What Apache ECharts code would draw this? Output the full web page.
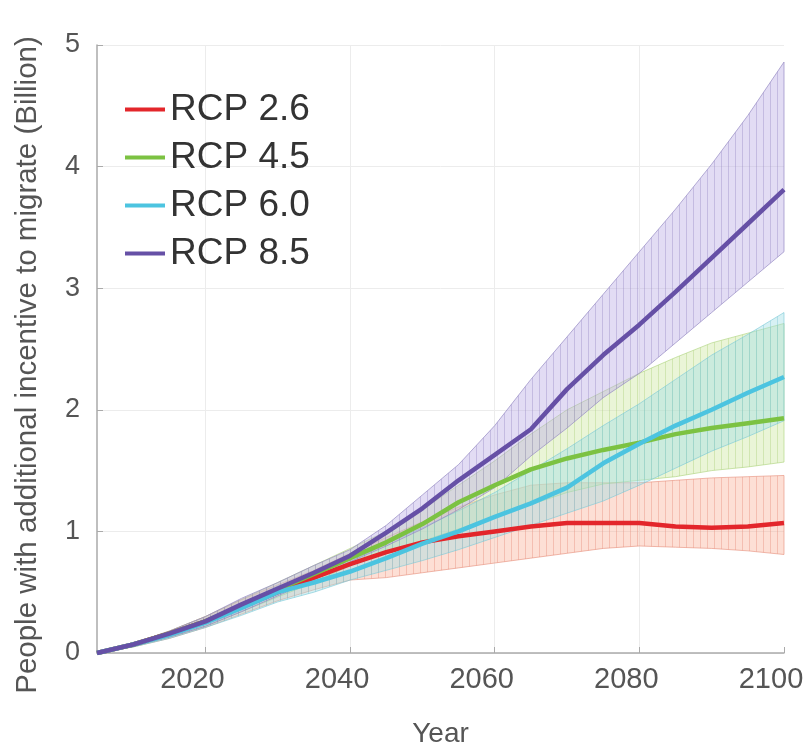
<!DOCTYPE html>
<html><head><meta charset="utf-8">
<script src="https://cdn.jsdelivr.net/npm/echarts@6/dist/echarts.min.js"></script>
<style>html,body{margin:0;padding:0;background:#fff}#c{width:808px;height:755px}</style>
</head><body><div id="c"></div>
<script>
const years = [2005,2010,2015,2020,2025,2030,2035,2040,2045,2050,2055,2060,2065,2070,2075,2080,2085,2090,2095,2100];

const rcp26Mean = [0,0.07,0.16,0.26,0.38,0.50,0.62,0.73,0.83,0.91,0.96,1.00,1.04,1.07,1.07,1.07,1.04,1.03,1.04,1.07];
const rcp26Low  = [0,0.05,0.12,0.21,0.32,0.43,0.52,0.60,0.62,0.66,0.70,0.74,0.78,0.82,0.86,0.88,0.87,0.86,0.84,0.81];
const rcp26High = [0,0.08,0.18,0.30,0.44,0.56,0.68,0.82,0.95,1.08,1.20,1.30,1.38,1.40,1.40,1.40,1.42,1.44,1.45,1.46];

const rcp45Mean = [0,0.07,0.16,0.26,0.39,0.52,0.65,0.78,0.91,1.06,1.24,1.38,1.51,1.60,1.67,1.73,1.80,1.85,1.89,1.93];
const rcp45Low  = [0,0.05,0.13,0.22,0.34,0.46,0.58,0.72,0.82,0.92,1.02,1.12,1.22,1.32,1.39,1.42,1.45,1.50,1.53,1.57];
const rcp45High = [0,0.08,0.18,0.30,0.44,0.58,0.72,0.86,1.00,1.18,1.38,1.58,1.80,2.00,2.15,2.30,2.43,2.55,2.63,2.71];

const rcp60Mean = [0,0.07,0.15,0.25,0.37,0.50,0.58,0.67,0.78,0.90,1.00,1.12,1.23,1.36,1.56,1.72,1.87,2.00,2.14,2.27];
const rcp60Low  = [0,0.05,0.12,0.21,0.31,0.42,0.50,0.60,0.68,0.76,0.85,0.95,1.05,1.15,1.25,1.38,1.52,1.66,1.78,1.91];
const rcp60High = [0,0.08,0.17,0.28,0.41,0.55,0.65,0.75,0.90,1.03,1.17,1.32,1.50,1.68,1.87,2.05,2.25,2.45,2.62,2.80];

const rcp85Mean = [0,0.07,0.16,0.26,0.40,0.53,0.66,0.80,0.99,1.19,1.42,1.63,1.84,2.17,2.45,2.70,2.97,3.25,3.53,3.81];
const rcp85Low  = [0,0.06,0.13,0.22,0.34,0.47,0.60,0.75,0.88,1.02,1.18,1.36,1.62,1.85,2.10,2.30,2.55,2.80,3.05,3.30];
const rcp85High = [0,0.08,0.18,0.30,0.45,0.58,0.72,0.85,1.05,1.30,1.55,1.87,2.25,2.60,2.95,3.30,3.65,4.02,4.42,4.86];

const xTicks = [2020,2040,2060,2080,2100];
const seriesNames = ['RCP 2.6','RCP 4.5','RCP 6.0','RCP 8.5'];

const FONT = 'Liberation Sans, Arial, sans-serif';
const lineColors = ['#E3262B','#7CC242','#4CC4E0','#6650A6'];
const bandBase = ['rgba(250,175,150,0.40)','rgba(205,232,160,0.42)','rgba(160,222,228,0.42)','rgba(185,172,228,0.42)'];
const bandHatch = ['rgba(225,130,110,0.35)','rgba(160,200,110,0.35)','rgba(110,190,205,0.35)','rgba(140,125,190,0.35)'];
const bandEdge = ['rgba(230,140,120,0.6)','rgba(170,210,120,0.6)','rgba(120,200,215,0.6)','rgba(150,138,195,0.7)'];

const means = [rcp26Mean, rcp45Mean, rcp60Mean, rcp85Mean];
const lows = [rcp26Low, rcp45Low, rcp60Low, rcp85Low];
const highs = [rcp26High, rcp45High, rcp60High, rcp85High];

function makePattern(k) {
  const cv = document.createElement('canvas');
  cv.width = 7; cv.height = 4;
  const ctx = cv.getContext('2d');
  ctx.fillStyle = bandBase[k];
  ctx.fillRect(0, 0, 7, 4);
  ctx.fillStyle = bandHatch[k];
  ctx.fillRect(0, 0, 1, 4);
  return { image: cv, repeat: 'repeat' };
}

function bandSeries(k) {
  const data = years.map((y, i) => [y, lows[k][i], highs[k][i]]);
  const pattern = makePattern(k);
  return {
    type: 'custom', silent: true, z: 1 + k,
    data: data,
    encode: { x: 0, y: [1, 2] },
    renderItem: function (params, api) {
      if (params.dataIndex !== 0) return null;
      const top = [], bot = [];
      for (let i = 0; i < data.length; i++) {
        top.push(api.coord([data[i][0], data[i][2]]));
        bot.push(api.coord([data[i][0], data[i][1]]));
      }
      const pts = top.concat(bot.reverse());
      return {
        type: 'polygon', shape: { points: pts },
        style: { fill: pattern, stroke: bandEdge[k], lineWidth: 1 }
      };
    }
  };
}

const gridLines = xTicks.slice(0, 4).map(v => ({ xAxis: v }));

const series = [];
for (let k = 0; k < 4; k++) series.push(bandSeries(k));
for (let k = 0; k < 4; k++) {
  series.push({
    name: seriesNames[k], type: 'line', z: 10 + k,
    data: years.map((y, i) => [y, means[k][i]]),
    showSymbol: false, symbol: 'none', smooth: false,
    lineStyle: { color: lineColors[k], width: 4.5 },
    itemStyle: { color: lineColors[k] },
    markLine: k === 0 ? {
      silent: true, symbol: 'none', label: { show: false },
      lineStyle: { color: '#ececec', type: 'solid', width: 1 },
      data: gridLines, z: 0
    } : undefined
  });
}

const chart = echarts.init(document.getElementById('c'), null, { renderer: 'canvas' });
chart.setOption({
  animation: false,
  backgroundColor: '#fff',
  grid: { left: 97, right: 24, top: 45, bottom: 102, containLabel: false, outerBoundsMode: 'none' },
  legend: {
    data: seriesNames, orient: 'vertical', left: 125, top: 91, padding: 0,
    icon: 'rect', itemWidth: 40, itemHeight: 4, itemGap: 11,
    textStyle: { fontFamily: FONT, fontSize: 37, color: '#333', lineHeight: 34 }
  },
  xAxis: {
    type: 'value', min: 2005, max: 2100,
    name: 'Year', nameLocation: 'middle', nameGap: 67,
    nameTextStyle: { fontFamily: FONT, fontSize: 28, color: '#555' },
    axisLine: { show: true, lineStyle: { color: '#aaa', width: 1.5 } },
    axisTick: { show: true, inside: true, length: 6, lineStyle: { color: '#aaa' }, customValues: xTicks },
    axisLabel: { fontFamily: FONT, fontSize: 29, color: '#555', margin: 12, customValues: xTicks,
      padding: [0, 26, 0, 0], formatter: v => String(v) },
    splitLine: { show: false }
  },
  yAxis: {
    type: 'value', min: 0, max: 5, interval: 1,
    name: 'People with additional incentive to migrate (Billion)',
    nameLocation: 'middle', nameGap: 54,
    nameTextStyle: { fontFamily: FONT, fontSize: 29.5, color: '#555', padding: [0, 32, 0, 0] },
    axisLine: { show: true, lineStyle: { color: '#aaa', width: 1.5 } },
    axisTick: { show: true, inside: true, length: 6, lineStyle: { color: '#aaa' } },
    axisLabel: { fontFamily: FONT, fontSize: 27, color: '#555', margin: 17 },
    splitLine: { show: true, lineStyle: { color: '#ececec', width: 1 } }
  },
  series: series
});
</script>
</body></html>
